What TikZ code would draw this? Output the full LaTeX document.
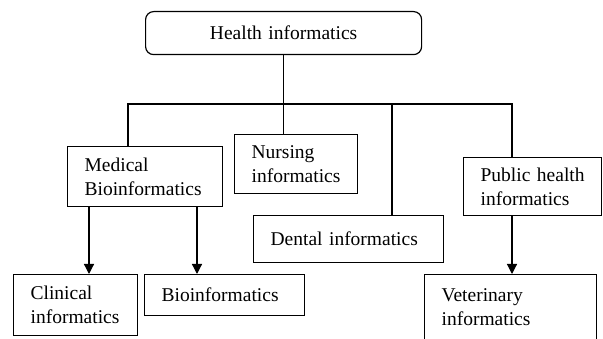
\documentclass[tikz,border=0pt]{standalone}
\usepackage{fontspec}
\setmainfont{Liberation Serif}
\usetikzlibrary{arrows.meta,calc,positioning}
\tikzset{
  box/.style   = {draw, line width=1.2pt, fill=white, anchor=north west, align=left,
                  inner xsep=17pt, inner ysep=0pt, font=\fontsize{19.5}{24}\selectfont},
  topbox/.style = {box, rounded corners=8pt, align=center},
  wire/.style  = {line width=1.2pt},
  arr/.style   = {wire, -{Triangle[length=10pt,width=10pt]}},
}
\begin{document}
\begin{tikzpicture}[x=1pt,y=-1pt]
  \clip (0,0) rectangle (603,339);
  % boxes
  \node[topbox, text width=242pt, minimum height=43pt] (health) at (145,11) {Health informatics};
  \node[box, text width=121pt, minimum height=60pt] (medical) at (67,146) {Medical\\Bioinformatics};
  \node[box, text width=89pt, minimum height=59pt] (nursing) at (234,134) {Nursing\\informatics};
  \node[box, text width=156pt, minimum height=47pt] (dental) at (253,215) {Dental informatics};
  \node[box, text width=104pt, minimum height=58pt] (public) at (463,157) {Public health\\informatics};
  \node[box, text width=90pt, minimum height=61pt] (clinical) at (13,274) {Clinical\\informatics};
  \node[box, text width=126pt, minimum height=41pt] (bio) at (144,274) {Bioinformatics};
  \node[box, text width=138pt, minimum height=66pt] (vet) at (424,274) {Veterinary\\informatics};
  % bus
  \coordinate (busL) at (128,104);
  \coordinate (busD) at (392,104);
  \coordinate (busR) at (512,104);
  \draw[wire] (health.south) -- (health.south |- nursing.north);
  \draw[wire] (busL |- medical.north) -- (busL) -- (busR) -- (busR |- public.north);
  \draw[wire] (busD) -- (busD |- dental.north);
  % arrows
  \draw[arr] ([xshift=22pt]medical.south west) -- ([xshift=22pt]medical.south west |- clinical.north);
  \draw[arr] ([xshift=130pt]medical.south west) -- ([xshift=130pt]medical.south west |- bio.north);
  \draw[arr] (busR |- public.south) -- (busR |- vet.north);
\end{tikzpicture}
\end{document}
